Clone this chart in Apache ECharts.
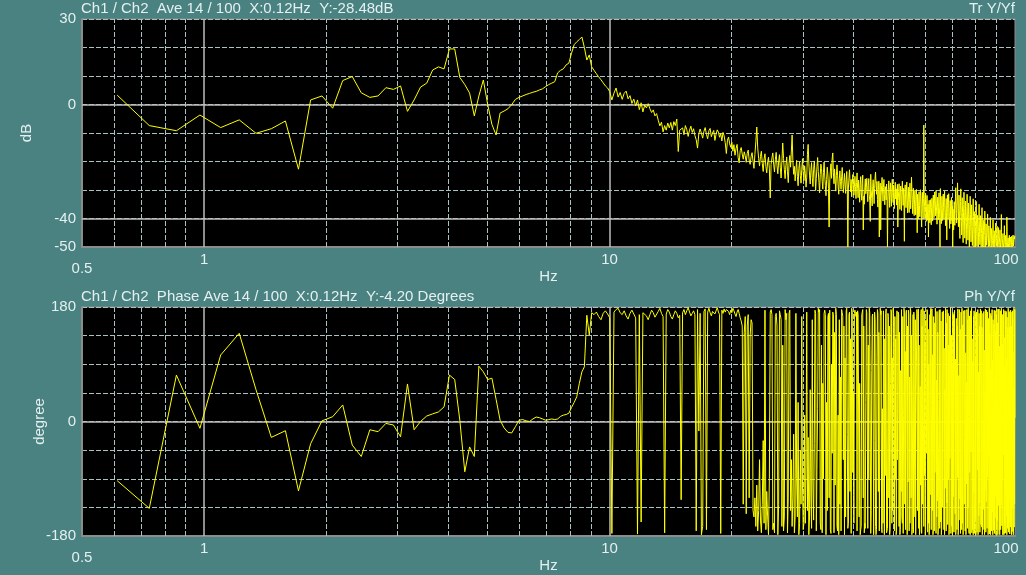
<!DOCTYPE html>
<html><head><meta charset="utf-8">
<script src="https://cdn.jsdelivr.net/npm/echarts@6/dist/echarts.min.js"></script>
<style>html,body{margin:0;padding:0;background:#4a8181;}#c{width:1026px;height:575px;}</style>
</head><body><div id="c"></div>
<script>
// FFT bin layout: frequency of point i is (firstBin + i) * binWidth
const binWidth = 0.1221;
const firstBin = 5;

// Transfer magnitude (dB), one value per bin from 0.61 Hz to 100 Hz
const magDb = [
3.3,-7.4,-9.2,-3.7,-8.1,-5.4,-10.1,-8.5,-5.8,-22.7,
1.6,3.0,-1.3,8.4,9.8,4.1,2.5,3.0,5.9,5.3,
6.5,-2.4,1.6,6.1,7.5,12.1,13.2,12.5,19.5,19.5,
9.5,7.0,4.0,-4.0,3.0,8.6,0,-7.0,-10.7,-3.0,
-2.3,-1.5,0,1.8,2.5,3.0,3.5,3.9,4.3,4.6,
5.1,5.5,6.3,7.0,7.5,8.0,11.1,12.0,12.5,13.9,
14.5,18.0,21.0,22.0,22.8,23.7,20.0,15.6,17.4,13.2,
12.0,10.8,9.7,8.7,7.6,6.5,5.8,4.5,1.6,4.0,
5.8,2.6,4.2,1.8,3.9,4.7,2.0,3.1,0.4,1.9,
-0.5,1.6,-1.8,0.6,-2.6,-0.2,-1.2,0.3,-1.5,-2.8,
-1.9,-4.0,-3.2,-5.5,-7.5,-6.2,-9.6,-7.4,-9.0,-6.5,
-8.2,-6.3,-9.0,-6.0,-7.4,-5.1,-16.5,-9.0,
-9.5,-8.2,-10.6,-7.4,-8.8,-11.2,-9.0,-7.6,-9.8,-8.5,
-10.9,-12.4,-15.3,-10.2,-8.6,-10.1,-11.8,-9.4,-8.1,-10.5,
-12.0,-9.2,-8.4,-11.3,-10.0,-9.1,-12.6,-10.4,-8.9,-9.7,
-11.5,-10.2,-12.8,-9.8,-11.0,-13.4,-17.2,-12.5,-11.4,-13.8,
-15.0,-13.2,-16.4,-14.1,-17.8,-15.5,-14.0,-18.6,-20.5,-16.2,
-15.1,-17.4,-19.2,-16.6,-18.0,-20.3,-17.1,-16.0,-19.5,-21.0,
-18.3,-16.9,-19.8,-22.4,-17.5,-13.0,-7.9,-15.2,-19.0,-21.6,
-18.2,-16.4,-20.7,-23.5,-19.1,-17.3,-21.8,-24.0,-20.2,-18.5,
-22.6,-32.8,-21.0,-18.7,-17.0,-20.9,-23.7,-19.4,-16.8,-21.5,
-24.3,-20.0,-17.6,-22.2,-25.8,-19.7,-13.5,-18.9,-22.8,-26.0,
-21.3,-18.4,-23.6,-27.4,-20.6,-17.9,-22.0,-16.3,-10.7,-19.8,
-24.5,-21.7,-26.8,-23.1,-19.6,-25.2,-28.5,-22.4,-20.1,-24.9,
-27.6,-22.8,-19.0,-23.9,-26.7,-21.5,-24.2,-29.0,-25.5,-17.5,
-14.0,-20.6,-24.8,-27.9,-23.0,-20.4,-25.6,-28.8,-22.7,-19.8,
-24.1,-30.2,-26.0,-21.8,-18.6,-23.5,-27.3,-31.0,-24.6,-20.9,
-22.5,-26.9,-29.7,-23.8,-20.2,-25.1,-28.4,-32.0,-26.3,-22.0,
-24.7,-29.5,-43.0,-27.2,-23.4,-20.8,-25.9,-19.0,-17.0,-24.0,
-27.8,-22.6,-26.5,-30.4,-25.0,-21.2,-24.4,-28.9,-31.5,-26.1,
-23.3,-27.0,-29.8,-25.4,-22.1,-26.6,-30.9,-28.0,-24.2,-27.5,
-31.2,-26.8,-23.5,-28.6,-50.0,-29.3,-25.7,-22.9,-27.1,-30.6,
-26.3,-32.4,-28.1,-24.6,-27.9,-31.8,-29.0,-25.2,-28.7,-33.0,
-27.4,-24.0,-29.6,-32.7,-26.5,-30.1,-34.3,-28.2,-25.3,-30.8,
-33.6,-27.7,-24.8,-44.0,-32.2,-35.0,-28.9,-26.1,-31.3,-29.0,
-25.9,-30.5,-34.1,-28.4,-26.0,-31.7,-33.8,-41.0,-24.5,-29.9,
-32.9,-35.6,-28.7,-26.4,-30.2,-34.8,-29.5,-25.8,-23.7,-28.1,
-31.5,-27.0,-33.4,-36.0,-29.8,-26.9,-46.5,-30.7,-27.6,-44.0,
-32.1,-28.5,-25.6,-30.3,-33.9,-29.1,-26.3,-31.6,-35.2,-28.8,
-30.0,-33.5,-27.9,-31.9,-50.0,-34.6,-29.7,-26.8,-31.0,-36.1,
-30.4,-27.5,-32.6,-35.7,-29.2,-26.2,-30.9,-34.4,-28.3,-31.8,
-36.5,-30.1,-27.3,-33.1,-29.6,-35.3,-31.4,-28.0,-43.0,-33.7,
-30.6,-27.8,-32.5,-36.8,-31.0,-28.6,-34.0,-37.2,-30.3,-26.9,
-31.9,-35.4,-29.4,-33.0,-48.0,-31.2,-28.2,-32.8,-36.2,-30.0,
-27.2,-33.6,-38.0,-31.7,-29.0,-34.9,-37.9,-30.5,-27.6,-33.3,
-36.6,-31.1,-25.5,-30.0,-34.4,-38.3,-32.0,-29.4,-35.1,-39.0,
-33.2,-30.1,-35.8,-38.7,-32.4,-29.8,-34.6,-45.0,-31.5,-36.9,
-40.2,-33.9,-30.6,-35.5,-39.4,-32.8,-29.9,-34.2,-38.6,-43.0,
-33.5,-30.8,-36.3,-40.0,-33.0,-7.2,-31.6,-35.7,-39.8,-34.1,
-31.2,-36.8,-41.0,-34.7,-31.9,-37.5,-40.6,-35.0,-46.5,-38.2,
-33.6,-36.9,-41.5,-37.0,-33.4,-38.8,-42.2,-36.1,-32.9,-37.7,
-40.9,-35.3,-31.8,-36.4,-39.7,-34.2,-30.7,-35.6,-39.1,-33.8,
-30.2,-34.9,-38.5,-42.0,-36.0,-32.5,-37.3,-40.4,-34.5,-31.0,
-35.9,-39.6,-50.0,-29.5,-34.0,-38.1,-41.8,-36.6,-32.2,-37.0,
-40.7,-35.2,-31.4,-36.2,-39.9,-34.4,-30.4,-35.3,-38.9,-42.5,
-36.8,-33.0,-37.9,-47.5,-35.5,-31.7,-36.5,-40.1,-34.8,-31.3,
-35.8,-39.3,-43.5,-37.6,-33.7,-38.4,-41.9,-36.3,-32.6,-37.2,
-40.8,-35.4,-50.0,-36.7,-40.3,-44.0,-37.8,-34.1,-38.7,-42.4,
-36.9,-33.1,-29.2,-34.5,-38.2,-41.6,-35.9,-32.3,-27.5,-33.6,
-38.4,-42.9,-36.5,-31.8,-37.1,-43.6,-47.0,-39.2,-34.0,-29.6,
-35.5,-41.0,-45.8,-38.0,-32.7,-37.9,-44.4,-48.5,-40.3,-35.1,
-30.8,-36.4,-42.3,-46.9,-39.5,-33.9,-38.8,-45.2,-49.0,-41.4,
-35.8,-31.5,-37.7,-43.8,-47.6,-40.1,-34.6,-39.7,-46.0,-50.0,
-42.2,-36.3,-32.2,-38.5,-44.7,-48.2,-40.9,-35.2,-40.5,-46.8,
-49.5,-42.8,-37.0,-33.1,-39.3,-45.5,-50.0,-43.4,-37.6,-41.2,
-47.3,-50.0,-44.1,-38.2,-34.0,-40.0,-46.2,-49.7,-43.0,-38.9,
-42.0,-47.9,-50.0,-44.6,-39.5,-35.0,-40.7,-46.6,-49.2,-44.0,
-39.0,-43.1,-48.4,-50.0,-45.3,-40.2,-36.2,-41.5,-47.2,-50.0,
-45.0,-40.6,-44.2,-48.9,-50.0,-45.9,-41.1,-37.4,-42.3,-47.7,
-50.0,-46.2,-41.9,-45.0,-49.4,-50.0,-46.5,-42.0,-38.4,-43.3,
-48.0,-50.0,-46.8,-42.6,-45.7,-49.8,-50.0,-47.1,-43.0,-39.6,
-44.4,-48.7,-50.0,-47.5,-43.5,-46.4,-49.9,-50.0,-47.8,-43.9,
-40.5,-45.2,-49.1,-50.0,-48.2,-44.3,-47.0,-50.0,-50.0,-48.4,
-44.8,-41.6,-46.0,-49.6,-50.0,-48.8,-45.1,-42.7,-46.9,-50.0,
-50.0,-49.0,-45.6,-43.2,-47.4,-50.0,-50.0,-49.3,-46.1,-44.0,
-47.9,-50.0,-50.0,-49.5,-46.6,-38.6,-44.8,-48.5,-50.0,-50.0,
-49.7,-47.0,-45.3,-48.9,-50.0,-50.0,-49.9,-47.4,-42.5,-46.0,
-49.2,-50.0,-50.0,-48.0,-45.9,-49.0,-50.0,-50.0,-48.3,-39.5,
-44.5,-48.6,-50.0,-50.0,-49.6,-46.8,-48.8,-50.0,-50.0,-48.7,
-45.9,-48.1,-50.0,-50.0,-49.8,-47.3,-46.5,-49.1,-50.0,-50.0,
-49.0,-46.2,-47.8,-50.0,-50.0,-48.4,-46.9,-45.8,-47.5,-49.6,
-50.0,-48.9,-46.4,-45.9,-47.2,-46.0,-45.8
];

// Transfer phase (degrees), same bins
const phaseDeg = [
-93,-136.5,73,-10.7,104.5,138.6,50,-25,-14.5,-109,
-35,1,7.5,26,-37,-55,-13,-16,-3,-5.5,
-24,59,-13,0,8.6,12,15,23,73,66,
2,-79,-40,-55,87,78,66,68,35,2,
-10,-17,-18,-8,2,3,1,0,4,7,
6,4,2,3,4,3,4,8,10,11,
13,22,30,39,60,78,86,167,136,171,
168,172,165,160,170,174,169,163,-176,172,
176,178,171,168,174,166,161,170,175,169,163,
-177,168,-158,171,
173,166,160,168,175,171,164,167,173,178,170,165,
-175,
169,176,172,165,161,168,174,170,163,
167,-123,
171,176,168,174,179,172,166,170,
174,168,-172,176,-15,170,-178,-165,173,177,-170,172,
178,171,166,173,176,169,174,179,
172,168,-176,175,
170,177,172,176,179,173,168,175,171,178,174,169,165,172,176,
170,163,158,150,-130,140,165,-145,150,168,-120,135,160,155,-140,
-150,-120,-165,-100,-172,-140,-60,-155,-175,-130,-30,-160,175,-170,-110,-150,-178,-90,
172,176,168,-170,-160,-175,165,170,150,-178,-130,174,168,160,-165,120,-172,-150,176,160,170,-175,-120,170,175,
-140,-60,-165,-120,-20,-175,-150,170,-90,-150,30,-178,-160,-45,-130,165,-100,-170,-160,10,-160,-70,172,-140,-25,-178,-150,50,-120,-168,160,-95,-155,-35,
175,170,-172,-75,20,178,172,176,-160,-170,120,-175,60,-90,170,175,168,-178,30,-140,
165,170,-120,175,-170,-176,90,-50,172,168,-175,140,-100,178,168,-165,-172,10,-178,160,
-130,70,-172,176,171,165,-60,150,-178,100,-150,174,178,-20,-168,-160,168,172,-110,130,
-176,178,172,-80,45,-160,170,175,
170,165,172,-172,174,168,165,-150,60,-178,-170,-165,168,172,176,-120,150,-175,-160,-168,
30,176,171,168,-168,120,-90,178,171,174,-176,-140,80,165,169,172,-178,-30,172,160,
-165,-178,-170,100,176,170,-110,140,-172,-50,178,168,174,-170,-175,20,-160,174,171,-178,
130,-85,170,177,-175,
-175,-168,170,165,-120,150,-178,-170,60,176,172,-160,100,-140,178,170,-30,-172,165,-90,
130,-178,-172,174,-60,20,172,168,-165,140,-178,-170,80,-110,176,-150,-160,165,-176,10,
178,172,-130,110,-170,170,175,-45,-178,150,-95,175,168,-172,70,-160,178,174,-120,135,
-178,-170,40,168,-175,172,165,-70,-150,160,-178,-176,95,176,170,-140,-20,177,-168,120,
-178,-172,55,-100,170,176,-176,150,-130,178,172,-5,-165,174,-85,125,-178,-170,160,-50,
30,176,172,-174,145,-160,90,-178,-168,168,-115,172,178,-170,25,177,-140,105,-178,-172,
165,-35,-172,155,-80,178,170,-176,65,-150,173,-125,140,-178,-165,35,170,175,-168,176,
-75,-158,158,-178,-170,100,172,-135,-15,174,168,-170,115,-178,50,-105,178,172,-172,155,
-128,176,0,-162,170,-92,120,-178,-170,166,-58,38,179,-176,-168,135,-164,85,-178,172,
168,-118,168,-174,18,175,172,-145,98,-178,-170,162,-40,-170,150,-88,177,-178,-172,72,
-155,176,170,-122,145,-176,28,172,-165,-170,178,-68,-160,152,-178,92,174,168,-130,-25,
175,-172,-165,108,-178,62,-98,176,172,-168,160,-135,178,8,-170,-176,166,-80,128,-178,
170,174,-48,42,178,-175,130,-162,-170,95,-178,165,-112,174,-176,-170,15,172,-150,102,
-178,168,172,-28,-174,145,-76,176,-178,-170,78,-148,170,-128,150,-174,22,177,172,-162,
174,-62,-166,148,-178,-172,88,170,-138,-12,173,-170,112,-178,48,-108,177,170,-174,158,
-126,175,-2,-168,172,-88,118,-178,-170,162,-55,35,178,-177,138,-166,82,-178,170,-120,
166,-172,12,176,-142,96,-178,160,-38,-171,153,-84,175,-176,68,-152,174,-118,142,-178,
32,168,-170,177,-72,-156,155,-178,98,176,-132,-18,177,-171,118,-178,58,-102,174,-170,
152,-132,178,4,-164,168,-90,122,-178,168,-52,28,176,-178,132,-160,88,-176,174,-116,
170,-175,20,173,-148,100,-178,164,-32,-168,148,-82,178,-174,75,-158,172,-124,148,-177,
26,174,-166,175,-66,-162,150,-178,90,172,-136,-22,174,-173,110,-178,52,-96,178,-166,
162,-130,176,6
];

// Grid / tick positions
const freqMinorLines = [0.6,0.7,0.8,0.9,2,3,4,5,6,7,8,9,20,30,40,50,60,70,80,90];
const freqMajorLines = [1,10];
const magShownLabels = [30,0,-40,-50];
const magMajorLines = [0,-40];
const phaseShownLabels = [180,0,-180];
const phaseMajorLines = [0];

const titleTop = 'Ch1 / Ch2  Ave 14 / 100  X:0.12Hz  Y:-28.48dB';
const titleTopRight = 'Tr Y/Yf';
const titleBottom = 'Ch1 / Ch2  Phase Ave 14 / 100  X:0.12Hz  Y:-4.20 Degrees';
const titleBottomRight = 'Ph Y/Yf';

const TXT = '#e4f0f0';
const FONT = 'Liberation Sans, Arial, sans-serif';
const FS = 15;
const DASH = {color:'#a9c3c3', type:[5,2], width:1};
const SOLID = {color:'#bdbdbd', type:'solid', width:1.5};

function mkPoints(vals){ return vals.map((v,i)=>[(firstBin+i)*binWidth, v]); }
function r3(v){ return Math.round(v*1000)/1000; }

function xAx(gi){
  return {
    type:'log', logBase:10, gridIndex:gi, min:0.5, max:100,
    axisLine:{show:true, onZero:false, lineStyle:{color:'#8c8c8c', width:2}},
    axisTick:{show:false}, splitLine:{show:false}, minorTick:{show:false},
    axisLabel:{show:true, showMinLabel:true, showMaxLabel:true, margin:5, hideOverlap:false,
      color:TXT, fontSize:FS, fontFamily:FONT,
      formatter:function(v){ const x=r3(v); if(x===0.5) return '{lo|0.5}'; if(x===100) return '{hi|100}'; return '{n|'+x+'}'; },
      rich:{
        lo:{color:TXT, fontSize:FS, fontFamily:FONT, padding:[9,0,0,0]},
        hi:{color:TXT, fontSize:FS, fontFamily:FONT, padding:[0,18,0,0]},
        n:{color:TXT, fontSize:FS, fontFamily:FONT}
      }},
    name:'Hz', nameLocation:'middle', nameGap:22, nameMoveOverlap:false,
    nameTextStyle:{color:TXT, fontSize:FS, fontFamily:FONT}
  };
}
function yAx(gi, min, max, interval, shown, name, gap){
  return {
    type:'value', gridIndex:gi, min:min, max:max, interval:interval,
    axisLine:{show:true, lineStyle:{color:'#8c8c8c', width:2}},
    axisTick:{show:false},
    axisLabel:{color:TXT, fontSize:FS, fontFamily:FONT, margin:6,
      formatter:function(v){ return shown.indexOf(v)>=0 ? String(v) : ''; }},
    splitLine:{show:true, lineStyle:DASH},
    name:name, nameLocation:'middle', nameGap:gap, nameMoveOverlap:false,
    nameTextStyle:{color:TXT, fontSize:FS, fontFamily:FONT}
  };
}
function gridSeries(gi, hMajor){
  const d = [];
  freqMinorLines.forEach(f=>d.push({xAxis:f, lineStyle:DASH}));
  freqMajorLines.forEach(f=>d.push({xAxis:f, lineStyle:SOLID}));
  hMajor.forEach(v=>d.push({yAxis:v, lineStyle:SOLID}));
  return {type:'line', xAxisIndex:gi, yAxisIndex:gi, data:[], z:1, silent:true,
    markLine:{silent:true, symbol:['none','none'], label:{show:false}, animation:false, data:d}};
}
function dataSeries(gi, vals){
  return {type:'line', xAxisIndex:gi, yAxisIndex:gi, data:mkPoints(vals), z:5,
    showSymbol:false, symbol:'none', sampling:null, clip:true, silent:true,
    lineStyle:{color:'#ffff00', width:1}};
}

const chart = echarts.init(document.getElementById('c'), null, {renderer:'canvas'});
const ts = {color:TXT, fontSize:FS, fontFamily:FONT, fontWeight:'normal'};
chart.setOption({
  backgroundColor:'#4a8181',
  animation:false,
  title:[
    {text:titleTop, left:81, top:1, padding:0, textStyle:ts},
    {text:titleTopRight, right:11, top:1, padding:0, textStyle:ts},
    {text:titleBottom, left:81, top:289, padding:0, textStyle:ts},
    {text:titleBottomRight, right:11, top:289, padding:0, textStyle:ts}
  ],
  grid:[
    {left:82, right:11, top:19, height:228, show:true, backgroundColor:'#000', borderColor:'#8c8c8c', borderWidth:1, outerBoundsMode:'none', containLabel:false},
    {left:82, right:11, top:307, height:229, show:true, backgroundColor:'#000', borderColor:'#8c8c8c', borderWidth:1, outerBoundsMode:'none', containLabel:false}
  ],
  xAxis:[xAx(0), xAx(1)],
  yAxis:[
    yAx(0, -50, 30, 10, magShownLabels, 'dB', 48),
    yAx(1, -180, 180, 45, phaseShownLabels, 'degree', 35)
  ],
  series:[
    gridSeries(0, magMajorLines),
    gridSeries(1, phaseMajorLines),
    dataSeries(0, magDb),
    dataSeries(1, phaseDeg)
  ]
});
</script></body></html>
